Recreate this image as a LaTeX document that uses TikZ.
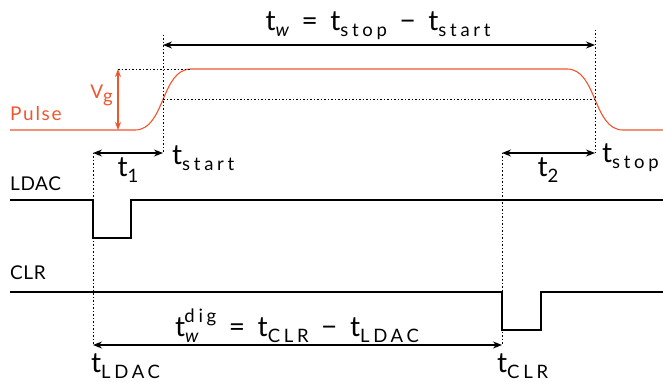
\documentclass[tikz,border=0pt]{standalone}
\usepackage{fontspec}
\setmainfont{Lato}
\newfontfamily\subfont[LetterSpace=20]{Lato}
\newfontfamily\lblfont[LetterSpace=3]{Lato}
\newfontfamily\lowfont[LetterSpace=9]{Lato}
\usetikzlibrary{arrows.meta}
\definecolor{pulsecol}{RGB}{240,85,45}
\newcommand\sbx[1]{\raisebox{-0.4ex}{\fontsize{18.5}{19}\subfont #1}}
\newcommand\spx[1]{\raisebox{1.0ex}{\fontsize{18.5}{19}\subfont #1}}
\newcommand\opx[1]{\hspace{0.45em}#1\hspace{0.45em}}
\tikzset{
  sig/.style={line width=1.1pt},
  guide/.style={line width=0.7pt, dash pattern=on 1.5pt off 2pt},
  dim/.style={line width=1.2pt, {Stealth[length=9pt,width=7pt]}-{Stealth[length=9pt,width=7pt]}},
  lbl/.style={font=\fontsize{19}{21}\lblfont, inner sep=0pt},
  mth/.style={font=\fontsize{28}{30}\selectfont, inner sep=0pt}
}
\begin{document}
\begin{tikzpicture}[x=1pt,y=-1pt]
\useasboundingbox (0,0) rectangle (663,382);
% key coordinates
\coordinate (p0) at (10,130);
\coordinate (r0) at (135,130);
\coordinate (r1) at (191,69);
\coordinate (f0) at (567,69);
\coordinate (f1) at (623,130);
\coordinate (p1) at (663,130);
\coordinate (mid1) at (163,99);
\coordinate (mid2) at (595,99);
\coordinate (vtop) at (118,69);
\coordinate (vbot) at (118,130);
\coordinate (s1top) at (163,35);
\coordinate (s1bot) at (163,153);
\coordinate (s2top) at (595,30);
\coordinate (s2bot) at (595,153);
\coordinate (twa) at (163,45);
\coordinate (twb) at (595,45);
\coordinate (lt) at (93,153);
\coordinate (lb) at (93,345);
\coordinate (ct) at (502,153);
\coordinate (cb) at (502,345);
% pulse
\draw[pulsecol, line width=1.1pt] (p0) -- (r0) .. controls (165,130) and (161,69) .. (r1) -- (f0) .. controls (597,69) and (593,130) .. (f1) -- (p1);
\draw[pulsecol, line width=1.1pt, {Stealth[length=8pt,width=6pt]}-{Stealth[length=8pt,width=6pt]}] (vtop) -- (vbot);
\draw[guide] (vtop) -- (r1);
\draw[guide] (mid1) -- (mid2);
\draw[guide] (s1top) -- (s1bot);
\draw[guide] (s2top) -- (s2bot);
\draw[guide] (lt) -- (lb);
\draw[guide] (ct) -- (cb);
% dimensions
\draw[dim] (twa) -- (twb);
\draw[dim] (lt) -- (s1bot);
\draw[dim] (ct) -- (s2bot);
\draw[dim] (lb) -- (cb);
% signals
\draw[sig] (10,200) -- (93,200) -- (93,238) -- (131,238) -- (131,200) -- (663,200);
\draw[sig] (10,292) -- (502,292) -- (502,330) -- (541,330) -- (541,292) -- (663,292);
% labels
\node[lbl, font=\fontsize{19}{21}\lowfont, text=pulsecol, anchor=west] (pulse) at (10,114) {Pulse};
\node[lbl, text=pulsecol, anchor=east] (vg) at (113,95) {V\sbx{g}};
\node[lbl, anchor=west] (ldac) at (10,184) {LDAC};
\node[lbl, anchor=west] (clr) at (10,273) {CLR};
\node[mth] (tw) at (378,26) {t\sbx{\itshape w}\opx{=}t\sbx{stop}\opx{−}t\sbx{start}};
\node[mth, anchor=west] (tstart) at (172,158) {t\sbx{start}};
\node[mth, anchor=west] (tstop) at (602,158) {t\sbx{stop}};
\node[mth] (t1) at (128,170) {t\sbx{1}};
\node[mth] (t2) at (548,170) {t\sbx{2}};
\node[mth] (twd) at (297,326) {t\sbx{\itshape w}\kern-0.5em\spx{dig}\opx{=}t\sbx{CLR}\opx{−}t\sbx{LDAC}};
\node[mth, anchor=west] (tldac) at (91,366) {t\sbx{LDAC}};
\node[mth, anchor=west] (tclr) at (497,366) {t\sbx{CLR}};
\end{tikzpicture}
\end{document}
